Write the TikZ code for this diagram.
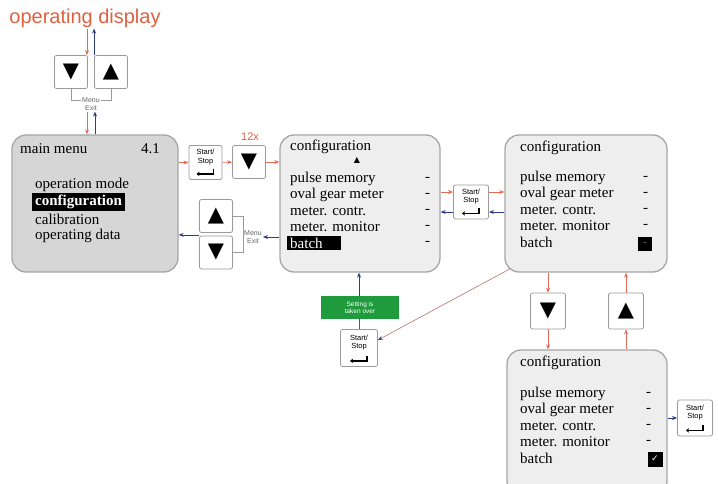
\documentclass[tikz,border=0pt]{standalone}
\usepackage{fontspec}
\setmainfont{Liberation Serif}
\setsansfont{Liberation Sans}
\newfontfamily\symfont{DejaVu Sans}
\usetikzlibrary{arrows.meta,positioning}
\definecolor{dispred}{HTML}{E0603F}
\definecolor{linkred}{HTML}{E36B55}
\definecolor{linkblue}{HTML}{2E3C88}
\definecolor{screengray}{HTML}{D6D6D6}
\definecolor{screenlight}{HTML}{EEEEEE}
\definecolor{keygray}{HTML}{9A9A9A}
\definecolor{setgreen}{HTML}{1F9A3C}
\tikzset{
  screen/.style={
    rectangle, rounded corners=14pt,
    draw=gray!70, line width=1.3pt, fill=#1,
    minimum width=160pt, minimum height=137pt, inner sep=0pt},
  screen/.default=screenlight,
  keybox/.style={
    rectangle, rounded corners=2pt,
    draw=keygray, line width=0.8pt, fill=white,
    minimum width=33pt, minimum height=33pt, inner sep=0pt,
    font=\symfont\fontsize{21}{21}\selectfont},
  sskey/.style={
    rectangle, rounded corners=2pt,
    draw=keygray, line width=0.8pt, fill=white,
    minimum width=33pt, minimum height=34pt, inner sep=0pt,
    align=center, text depth=12pt, font=\sffamily\fontsize{7.5}{8.5}\selectfont},
  item/.style={anchor=west, inner sep=0pt, font=\fontsize{15}{17}\selectfont},
  hilite/.style={item, fill=black, text=white, inner xsep=3pt, inner ysep=2pt},
  tag/.style={font=\sffamily\fontsize{7}{8}\selectfont, text=gray!80!black,
    align=center, fill=white, inner sep=1pt},
  redarrow/.style={-{Stealth[length=5pt,width=4pt]}, draw=linkred, line width=0.6pt},
  bluearrow/.style={-{Stealth[length=5pt,width=4pt]}, draw=linkblue, line width=0.6pt},
}

\begin{document}
\begin{tikzpicture}[x=1pt, y=-1pt]
  \useasboundingbox (0,0) rectangle (718,484);
  \clip (0,0) rectangle (718,484);

  % operating display and its keys
  \node[font=\sffamily\fontsize{20}{22}\selectfont, text=dispred, inner sep=1pt] (od) at (85,18) {operating display};
  \node[keybox] (dk0) at (71,72) {▼};
  \node[keybox] (uk0) at (111,72) {▲};
  \draw[draw=keygray, line width=0.8pt] (dk0.south) -- ++(0,12) -| (uk0.south);
  \node[tag] (mx0) at (91,104) {Menu\\Exit};

  % main menu
  \node[screen=screengray, minimum width=166pt] (mm) at (95,203.5) {};
  \node[item] (mmt) at (20,149) {main menu};
  \node[item, anchor=east] (mmn) at (160,149) {4.1};
  \node[item] (mm1) at (35,185) {operation mode};
  \node[hilite, font=\bfseries\fontsize{15}{17}\selectfont] (mm2) at (32,202) {configuration};
  \node[item] (mm3) at (35,219) {calibration};
  \node[item] (mm4) at (35,236) {operating data};

  % keys between main menu and first configuration
  \node[sskey] (ss1) at (205.5,162.5) {Start/\\Stop};
  \node[keybox] (dk1) at (249,162) {▼};
  \node[font=\sffamily\fontsize{11}{12}\selectfont, text=dispred, inner sep=1pt] (rep) at (250,137) {12x};
  \node[keybox] (uk2) at (216,216) {▲};
  \node[keybox] (dk2) at (216,252.5) {▼};
  \node[tag] (mx2) at (253,237) {Menu\\Exit};
  \draw[draw=keygray, line width=0.8pt] (uk2.east) -| (mx2.west) |- (dk2.east);

  % configuration, batch selected
  \node[screen] (cf1) at (360,203.5) {};
  \node[item] (cf1t) at (290,147) {configuration};
  \node[font=\symfont\fontsize{8}{8}\selectfont, inner sep=0pt] (cf1up) at (357,160) {▲};
  \foreach \txt [count=\i] in {pulse memory, oval gear meter, meter. contr., meter. monitor}
    \node[item] (cf1i\i) at (290,163+16*\i) {\txt};
  \node[hilite, text width=48pt] (cf1b) at (287,243) {batch};
  \foreach \i in {1,...,5}
    \node[item] (cf1d\i) at (425,163+16*\i) {-};

  % configuration, batch open
  \node[sskey, minimum width=35pt] (ss2) at (471,202) {Start/\\Stop};
  \node[screen, minimum width=162pt] (cf2) at (586,203.5) {};
  \node[item] (cf2t) at (520,148) {configuration};
  \foreach \txt [count=\i] in {pulse memory, oval gear meter, meter. contr., meter. monitor, batch}
    \node[item] (cf2i\i) at (520,162+16*\i) {\txt};
  \foreach \i in {1,...,4}
    \node[item] (cf2d\i) at (643,162+16*\i) {-};
  \node[fill=black, text=gray, minimum size=14pt, inner sep=0pt, font=\fontsize{10}{10}\selectfont] (cf2box) at (645,244) {-};

  % keys below
  \node[keybox, minimum width=35pt, minimum height=36pt] (dk3) at (548,311) {▼};
  \node[keybox, minimum width=35pt, minimum height=36pt] (uk3) at (626,311) {▲};

  % configuration, batch ticked
  \node[screen, minimum height=145pt] (cf3) at (587,422.5) {};
  \node[item] (cf3t) at (520,363) {configuration};
  \foreach \txt [count=\i] in {pulse memory, oval gear meter, meter. contr., meter. monitor, batch}
    \node[item] (cf3i\i) at (520,378+16*\i) {\txt};
  \foreach \i in {1,...,4}
    \node[item] (cf3d\i) at (646,378+16*\i) {-};
  \node[fill=black, text=white, minimum size=15pt, inner sep=0pt, font=\symfont\fontsize{9}{9}\selectfont] (cf3box) at (655,459) {✓};
  \node[sskey, minimum width=35pt, minimum height=36pt] (ss3) at (695,418) {Start/\\Stop};

  % setting taken over
  \node[fill=setgreen, text=white, minimum width=78pt, minimum height=23pt, inner sep=1pt,
    font=\sffamily\fontsize{6.5}{7.5}\selectfont, align=center] (gb) at (360,307.5) {Setting is\\taken over};
  \node[sskey, minimum width=37pt, minimum height=37pt] (ss4) at (359,348) {Start/\\Stop};

  % return symbol on the Start/Stop keys
  \foreach \k in {ss1,ss2,ss3,ss4}
    \draw[line width=1.4pt, {Stealth[length=3pt,width=4.5pt]}-] ([xshift=-9pt,yshift=6pt]\k.south) -| ([xshift=8pt,yshift=11pt]\k.south);

  % connectors
  \draw[redarrow] ([xshift=2pt]od.south) -- ([xshift=2pt]od.south |- dk0.north);
  \draw[bluearrow] (uk0.north west) -- (uk0.north west |- od.south);
  \draw[redarrow] ([xshift=-4pt]mx0.south) -- ([xshift=-4pt]mx0.south |- mm.north);
  \draw[bluearrow] ([xshift=4pt]mx0.south |- mm.north) -- ([xshift=4pt]mx0.south);

  \draw[redarrow] (mm.east |- ss1) -- (ss1);
  \draw[redarrow] (ss1) -- (dk1);
  \draw[redarrow] (dk1) -- (dk1 -| cf1.west);
  \draw[bluearrow] (mx2 -| cf1.west) -- (mx2.east);
  \draw[bluearrow] ([yshift=-2pt]uk2.south west) -- ([yshift=-2pt]uk2.south west -| mm.east);

  \draw[redarrow] ([yshift=10pt]ss2.west -| cf1.east) -- ([yshift=10pt]ss2.west);
  \draw[redarrow] ([yshift=10pt]ss2.east) -- ([yshift=10pt]ss2.east -| cf2.west);
  \draw[bluearrow] ([yshift=-10pt]ss2.east -| cf2.west) -- ([yshift=-10pt]ss2.east);
  \draw[bluearrow] ([yshift=-10pt]ss2.west) -- ([yshift=-10pt]ss2.west -| cf1.east);

  \draw[redarrow] (dk3 |- cf2.south) -- (dk3);
  \draw[redarrow] (dk3) -- (dk3 |- cf3.north);
  \draw[redarrow] (uk3 |- cf3.north) -- (uk3);
  \draw[redarrow] (uk3) -- (uk3 |- cf2.south);
  \draw[bluearrow] (cf3.east |- ss3) -- (ss3);

  \draw[draw=linkblue!60!gray, line width=0.6pt] (ss4.north) -- (ss4.north |- gb.south);
  \draw[bluearrow] (ss4.north |- gb.north) -- (ss4.north |- cf1.south);
  \draw[draw=linkred!50!gray, line width=0.6pt, -{Stealth[length=5pt,width=4pt,color=linkblue]}]
    ([xshift=6pt,yshift=4pt]cf2.south west) -- ([yshift=8pt]ss4.east);
\end{tikzpicture}
\end{document}
